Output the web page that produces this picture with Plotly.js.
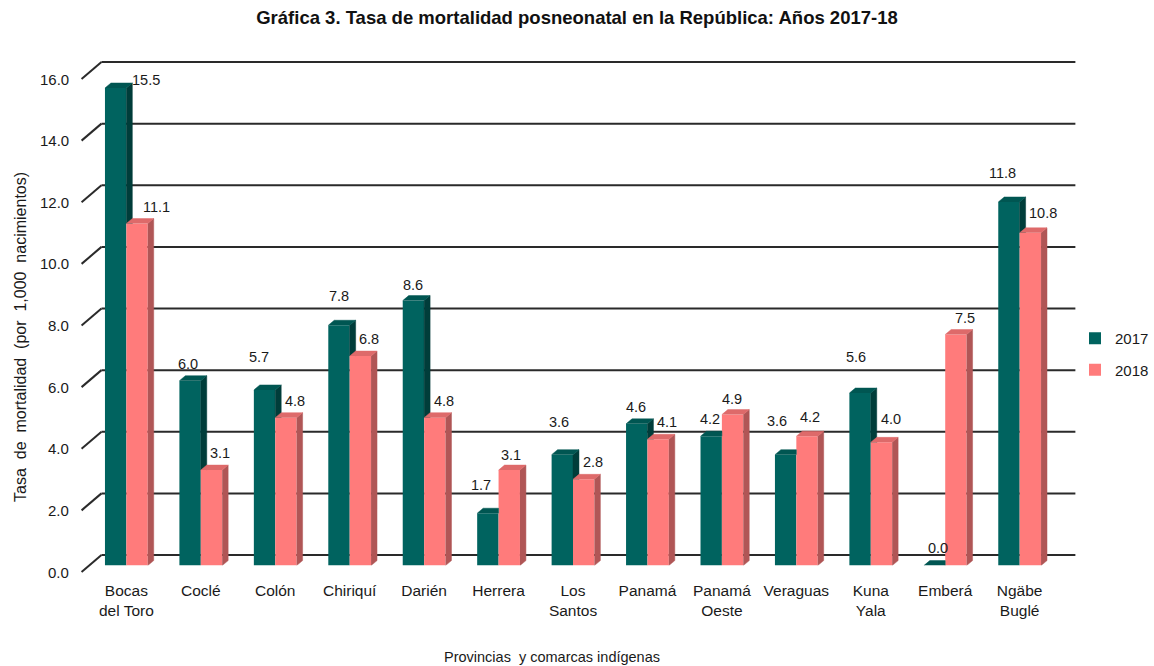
<!DOCTYPE html>
<html>
<head>
<meta charset="utf-8">
<script src="https://cdn.plot.ly/plotly-3.0.1.min.js"></script>
<style>html,body{margin:0;padding:0;background:#fff}#chart{width:1154px;height:666px}</style>
</head>
<body>
<div id="chart"></div>
<script>
// ---- data ----
const categories = ['Bocas<br>del Toro','Coclé','Colón','Chiriquí','Darién','Herrera','Los<br>Santos','Panamá','Panamá<br>Oeste','Veraguas','Kuna<br>Yala','Emberá','Ngäbe<br>Buglé'];
const series2017 = [15.5, 6.0, 5.7, 7.8, 8.6, 1.7, 3.6, 4.6, 4.2, 3.6, 5.6, 0.0, 11.8];
const series2018 = [11.1, 3.1, 4.8, 6.8, 4.8, 3.1, 2.8, 4.1, 4.9, 4.2, 4.0, 7.5, 10.8];
const seriesNames = ['2017', '2018'];
const yTickValues = [0, 2, 4, 6, 8, 10, 12, 14, 16];
const chartTitle = 'Gráfica 3. Tasa de mortalidad posneonatal en la República: Años 2017-18';
const xTitle = 'Provincias  y comarcas indígenas';
const yTitle = 'Tasa  de  mortalidad  (por  1,000  nacimientos)';

// ---- geometry / style ----
const W = 1154, H = 666;
const FRONT = {left: 89.6, right: 1062.4, zero: 565.6, top: 72.6};
const BACK = {left: 102, right: 1081, zero: 555, top: 62};
const DIAG = {dx: 20, dy: 17};
const YMAX = 16;
const pxPerCat = (FRONT.right - FRONT.left) / categories.length;
const pxPerUnit = (FRONT.zero - FRONT.top) / YMAX;
const bw = 21.5 / pxPerCat;
const ddx = 6 / pxPerCat, ddy = 5 / pxPerUnit;
const NARROW = '"Liberation Sans Narrow","Arial Narrow","Liberation Sans",Arial,sans-serif';
const REG = '"Liberation Sans",Arial,sans-serif';
const TXT = '#1a1a1a';
const GRID = '#2a2a2a';
const C = {
  a: {front: '#00635f', side: '#003d3a', top: '#005652'},
  b: {front: '#ff7b7b', side: '#b05656', top: '#de6a6a'}
};
// label placement (pixel shifts: right, up from the bar's front top edge)
const labelPosA = {0: [30, 8], 1: [-2, 17], 2: [-6, 33], 3: [0, 29], 4: [0, 16], 5: [-7, 28], 6: [-3, 33], 7: [-1, 17], 8: [-1, 17], 9: [-9, 34], 10: [-4, 36], 11: [3, 18], 12: [-6, 29]};
const labelPosB = {0: [19, 17], 5: [2, 15], 8: [-1, 16], 9: [3, 19], 10: [10, 23], 12: [13, 20]};
const labelDefaultB = [9, 17];

const idx = categories.map((_, i) => i);
const backY = v => 1 - (BACK.zero - v * (BACK.zero - BACK.top) / YMAX) / H;

// 3D faces computed from the data
const faces = {aSide: {x: [], y: []}, aTop: {x: [], y: []}, bSide: {x: [], y: []}, bTop: {x: [], y: []}};
function poly(f, pts) { pts.forEach(p => { f.x.push(p[0]); f.y.push(p[1]); }); f.x.push(null); f.y.push(null); }
idx.forEach(i => {
  const v1 = series2017[i], v2 = series2018[i];
  if (v1 > v2) {
    poly(faces.aSide, [[i, v2], [i, v1], [i + ddx, v1 + ddy], [i + ddx, v2]]);
    poly(faces.aTop, [[i - bw, v1], [i - bw + ddx, v1 + ddy], [i + ddx, v1 + ddy], [i, v1]]);
  } else {
    poly(faces.aTop, [[i - bw, v1], [i - bw + ddx, v1 + ddy], [i, v1 + ddy], [i, v1]]);
  }
  poly(faces.bSide, [[i + bw, 0], [i + bw + ddx, ddy], [i + bw + ddx, v2 + ddy], [i + bw, v2]]);
  poly(faces.bTop, [[i, v2], [i + ddx, v2 + ddy], [i + bw + ddx, v2 + ddy], [i + bw, v2]]);
});
function faceTrace(f, color) {
  return {type: 'scatter', mode: 'lines', x: f.x, y: f.y, fill: 'toself',
    fillcolor: color, line: {width: 0.5, color: color}, hoverinfo: 'skip', showlegend: false, cliponaxis: false};
}

const traces = [
  {type: 'bar', name: seriesNames[0], x: idx, y: series2017, width: bw, offset: -bw,
   marker: {color: C.a.front, line: {width: 0}}, legendgroup: 'a'},
  {type: 'bar', name: seriesNames[1], x: idx, y: series2018, width: bw, offset: 0,
   marker: {color: C.b.front, line: {width: 0}}, legendgroup: 'b'},
  faceTrace(faces.aSide, C.a.side),
  faceTrace(faces.aTop, C.a.top),
  faceTrace(faces.bSide, C.b.side),
  faceTrace(faces.bTop, C.b.top)
];

// annotations
const annotations = [];
yTickValues.forEach(v => annotations.push({xref: 'paper', yref: 'paper', x: 71 / W, y: backY(v), yshift: -DIAG.dy, xanchor: 'right', yanchor: 'middle',
  text: v.toFixed(1), showarrow: false, font: {family: NARROW, size: 15, color: TXT}}));
idx.forEach(i => {
  const na = labelPosA[i] || [0, 17], nb = labelPosB[i] || labelDefaultB;
  annotations.push({xref: 'x', yref: 'y', x: i - bw / 2, y: series2017[i], xshift: na[0], yshift: na[1], yanchor: 'middle',
    text: series2017[i].toFixed(1), showarrow: false, font: {family: NARROW, size: 14.5, color: TXT}});
  annotations.push({xref: 'x', yref: 'y', x: i + bw / 2, y: series2018[i], xshift: nb[0], yshift: nb[1], yanchor: 'middle',
    text: series2018[i].toFixed(1), showarrow: false, font: {family: NARROW, size: 14.5, color: TXT}});
});
annotations.push({xref: 'paper', yref: 'paper', x: 555 / W, y: 1 - 657 / H, xanchor: 'center', yanchor: 'middle',
  text: xTitle, showarrow: false, font: {family: REG, size: 14.5, color: TXT}});
annotations.push({xref: 'paper', yref: 'paper', x: 20 / W, y: 1 - 337 / H, xanchor: 'center', yanchor: 'middle', textangle: -90,
  text: yTitle, showarrow: false, font: {family: REG, size: 16, color: TXT}});

// back-wall gridlines and diagonal depth ticks, computed from the tick values
const shapes = [];
yTickValues.forEach(v => {
  const y = backY(v);
  shapes.push({type: 'line', xref: 'paper', yref: 'paper', layer: 'below', x0: BACK.left / W, x1: BACK.right / W, y0: y, y1: y, line: {color: GRID, width: 2}});
  shapes.push({type: 'line', xref: 'paper', yref: 'paper', layer: 'below', x0: BACK.left / W, x1: (BACK.left - DIAG.dx) / W, y0: y, y1: y - DIAG.dy / H, line: {color: GRID, width: 2}});
});

const layout = {
  width: W, height: H, margin: {l: 0, r: 0, t: 0, b: 0},
  paper_bgcolor: '#fff', plot_bgcolor: 'rgba(0,0,0,0)',
  title: {text: '<b>' + chartTitle + '</b>', x: 0.5, xanchor: 'center', y: 1 - 18 / H, yanchor: 'middle', yref: 'paper',
    font: {family: NARROW, size: 18.5, color: '#111'}},
  barmode: 'overlay',
  showlegend: true,
  legend: {x: 1081 / W, xanchor: 'left', y: 1 - 322 / H, yanchor: 'top', tracegroupgap: 9, font: {family: NARROW, size: 15, color: TXT}, bgcolor: 'rgba(0,0,0,0)'},
  xaxis: {domain: [FRONT.left / W, FRONT.right / W], range: [-0.5, categories.length - 0.5], anchor: 'y', tickvals: idx, ticktext: categories,
    showgrid: false, zeroline: false, showline: false, ticks: '', ticklabelstandoff: 14, tickfont: {family: NARROW, size: 15.5, color: TXT}, fixedrange: true},
  yaxis: {domain: [1 - FRONT.zero / H, 1 - FRONT.top / H], range: [0, YMAX], anchor: 'x', showgrid: false, zeroline: false, showline: false, showticklabels: false, ticks: '', fixedrange: true},
  annotations: annotations,
  shapes: shapes
};

Plotly.newPlot('chart', traces, layout, {displayModeBar: false, staticPlot: true});
</script>
</body>
</html>
